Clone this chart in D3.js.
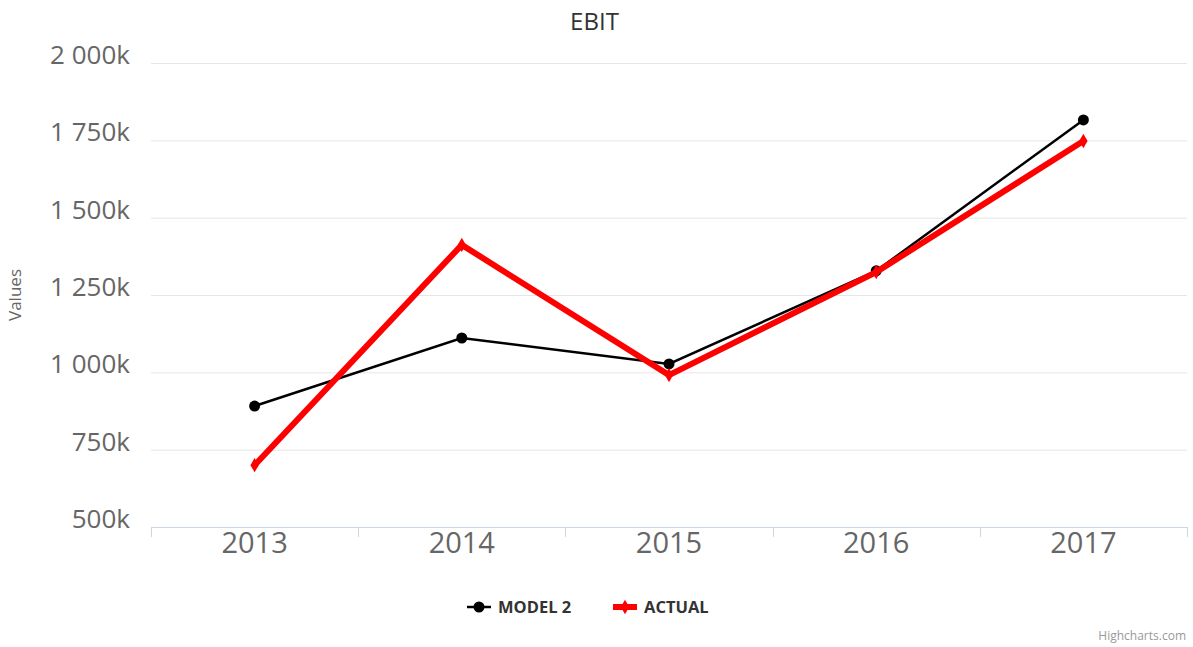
<!DOCTYPE html>
<html>
<head>
<meta charset="utf-8">
<script src="https://cdn.jsdelivr.net/npm/d3@7"></script>
<style>
  body { margin: 0; background: #fff; }
  svg { font-family: "Open Sans", "Noto Sans", sans-serif; }
</style>
</head>
<body>
<div id="chart"></div>
<script>
const years = ["2013", "2014", "2015", "2016", "2017"];
const model2 = [891, 1111, 1027, 1328, 1816];
const actual = [700, 1412, 991, 1324, 1748];
const yTicks = [500, 750, 1000, 1250, 1500, 1750, 2000];

const W = 1193, H = 647;
const margin = { top: 63, right: 6, bottom: 120, left: 151 };
const plotW = W - margin.left - margin.right;
const plotH = H - margin.top - margin.bottom;

const svg = d3.select("#chart").append("svg")
  .attr("width", W).attr("height", H);

const x = d3.scaleBand().domain(years).range([0, plotW]);
const y = d3.scaleLinear().domain([500, 2000]).range([plotH, 0]);
const fmt = v => d3.format(",")(v).replace(/,/g, " ") + "k";

svg.append("text")
  .attr("x", W / 2 - 2).attr("y", 30)
  .attr("text-anchor", "middle")
  .attr("font-size", 24).attr("fill", "#333")
  .text("EBIT");

const g = svg.append("g").attr("transform", `translate(${margin.left},${margin.top})`);

// grid lines
g.selectAll(".grid").data(yTicks.slice(1)).enter().append("line")
  .attr("x1", 0).attr("x2", plotW)
  .attr("y1", d => y(d) + 0.5).attr("y2", d => y(d) + 0.5)
  .attr("stroke", "#e6e6e6").attr("stroke-width", 1);

// y labels
g.selectAll(".ylab").data(yTicks).enter().append("text")
  .attr("x", -21).attr("y", d => y(d) + 1)
  .attr("text-anchor", "end")
  .attr("font-size", 26).attr("fill", "#666")
  .text(fmt);

svg.append("text")
  .attr("transform", `translate(21,${margin.top + plotH / 2}) rotate(-90)`)
  .attr("text-anchor", "middle")
  .attr("font-size", 17).attr("fill", "#666")
  .text("Values");

// x axis
const xAxis = g.append("g").attr("transform", `translate(0,${plotH})`);
xAxis.append("line")
  .attr("x1", 0).attr("x2", plotW).attr("y1", 0.5).attr("y2", 0.5)
  .attr("stroke", "#ccd6eb");
const bounds = years.map(d => x(d)).concat([plotW]);
xAxis.selectAll(".tick").data(bounds).enter().append("line")
  .attr("x1", d => Math.round(d) + 0.5).attr("x2", d => Math.round(d) + 0.5)
  .attr("y1", 0).attr("y2", 10)
  .attr("stroke", "#ccd6eb");
xAxis.selectAll(".xlab").data(years).enter().append("text")
  .attr("x", d => x(d) + x.bandwidth() / 2).attr("y", 26)
  .attr("text-anchor", "middle")
  .attr("font-size", 29).attr("fill", "#666")
  .text(d => d);

const cx = (d, i) => x(years[i]) + x.bandwidth() / 2;
const line = d3.line().x(cx).y(d => y(d));

g.append("path").datum(model2)
  .attr("d", line).attr("fill", "none")
  .attr("stroke", "#000").attr("stroke-width", 2.5);
g.selectAll(".m2").data(model2).enter().append("circle")
  .attr("cx", cx).attr("cy", d => y(d)).attr("r", 5.5)
  .attr("fill", "#000");

g.append("path").datum(actual)
  .attr("d", line).attr("fill", "none")
  .attr("stroke", "#ff0000").attr("stroke-width", 6)
  .attr("stroke-linejoin", "miter");
const diamond = d3.symbol().type(d3.symbolDiamond).size(60);
g.selectAll(".ac").data(actual).enter().append("path")
  .attr("d", diamond)
  .attr("transform", (d, i) => `translate(${cx(d, i)},${y(d)})`)
  .attr("fill", "#ff0000");

// legend
const legend = svg.append("g").attr("transform", "translate(0,607)");
const items = [
  { name: "MODEL 2", color: "#000", width: 2.5, x0: 467, tx: 498, marker: "circle" },
  { name: "ACTUAL", color: "#ff0000", width: 6, x0: 613, tx: 644, marker: "diamond" }
];
items.forEach(it => {
  legend.append("line")
    .attr("x1", it.x0).attr("x2", it.x0 + 24).attr("y1", 0).attr("y2", 0)
    .attr("stroke", it.color).attr("stroke-width", it.width);
  if (it.marker === "circle") {
    legend.append("circle").attr("cx", it.x0 + 12).attr("cy", 0).attr("r", 5.5).attr("fill", it.color);
  } else {
    legend.append("path").attr("d", diamond).attr("transform", `translate(${it.x0 + 12},0)`).attr("fill", it.color);
  }
  legend.append("text")
    .attr("x", it.tx).attr("y", 6)
    .attr("font-size", 16.5).attr("font-weight", "bold").attr("fill", "#333")
    .text(it.name);
});

svg.append("text")
  .attr("x", W - 7).attr("y", 640)
  .attr("text-anchor", "end")
  .attr("font-size", 12).attr("fill", "#999")
  .text("Highcharts.com");
</script>
</body>
</html>
